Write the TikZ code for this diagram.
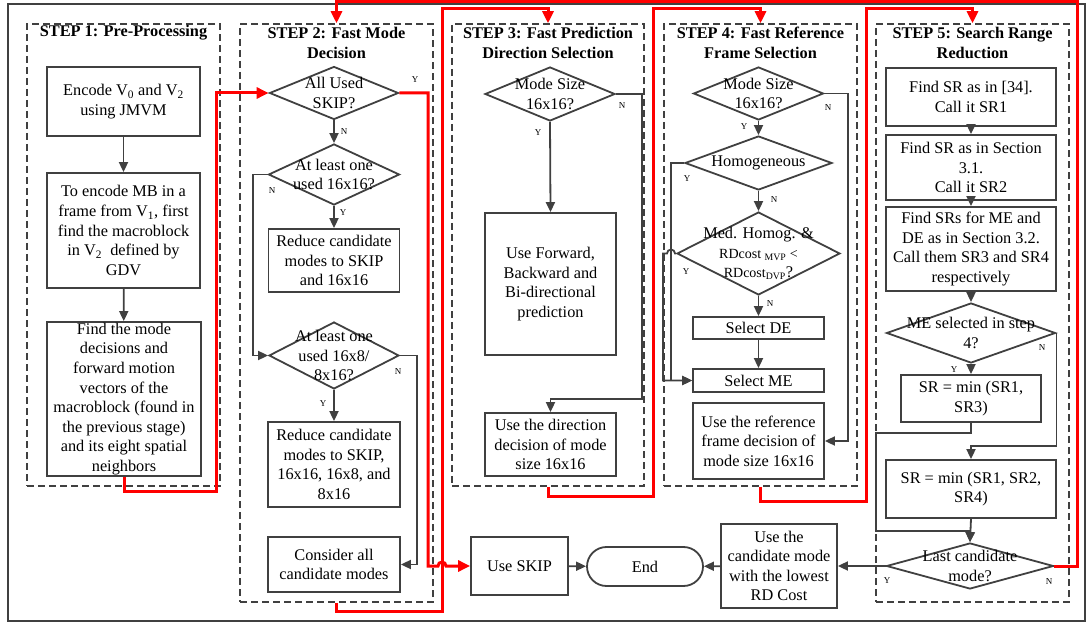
\documentclass[tikz,border=0pt]{standalone}
\usepackage{fontspec}
\setmainfont{Liberation Serif}
\usetikzlibrary{arrows.meta,shapes.geometric}

\definecolor{ln}{HTML}{404040}
\definecolor{hot}{HTML}{FF0000}

\tikzset{
  txt/.style={font=\fontsize{16.3}{19.6}\selectfont, text=black},
  pbox/.style 2 args={txt, draw=ln, line width=1.8pt, align=center, inner sep=0pt,
    minimum width=#1, minimum height=#2},
  dia/.style 2 args={diamond, draw=ln, line width=1.8pt, inner sep=0pt,
    minimum width=#1, minimum height=#2},
  dtext/.style={txt, align=center, inner sep=0pt},
  stagebox/.style 2 args={draw=ln, line width=1.5pt, dash pattern=on 7pt off 4pt,
    inner sep=0pt, minimum width=#1, minimum height=#2},
  ttl/.style={font=\fontsize{16.3}{20}\selectfont\bfseries, align=center, inner sep=0pt},
  yn/.style={font=\fontsize{9}{10}\selectfont, inner sep=0pt},
  gline/.style={draw=ln, line width=1.8pt},
  garr/.style={gline, -{Triangle[length=10pt,width=9pt]}},
  rarr/.style={draw=hot, line width=3pt, -{Triangle[length=12pt,width=11pt]}},
}

\begin{document}
\begin{tikzpicture}[x=1pt,y=-1pt]
\useasboundingbox (0,0) rectangle (1088,623);

% outer frame
\draw[ln, line width=1.6pt] (8,4) rectangle (1085,621);

% stage frames and titles
\node[stagebox={193}{462}] (st1) at (123.5,255) {};
\node[stagebox={193}{578}] (st2) at (336.5,313) {};
\node[stagebox={192}{462}] (st3) at (548,255) {};
\node[stagebox={193}{462}] (st4) at (760.5,255) {};
\node[stagebox={193}{578}] (st5) at (972.5,313) {};

\node[ttl] (t1) at (123.5,33) {STEP 1: Pre-Processing};
\node[ttl] (t2) at (336.5,43) {STEP 2: Fast Mode\\Decision};
\node[ttl] (t3) at (548,43) {STEP 3: Fast Prediction\\Direction Selection};
\node[ttl] (t4) at (760.5,43) {STEP 4: Fast Reference\\Frame Selection};
\node[ttl] (t5) at (972.5,43) {STEP 5: Search Range\\Reduction};

% step 1
\node[pbox={153}{69}] (a1) at (123.5,101.5) {Encode V\textsubscript{0} and V\textsubscript{2}\\using JMVM};
\node[pbox={153}{115}] (a2) at (123.5,230.5) {To encode MB in a\\frame from V\textsubscript{1}, first\\find the macroblock\\in V\textsubscript{2}~ defined by\\GDV};
\node[pbox={154}{154}] (a3) at (124,399) {Find the mode\\decisions and\\forward motion\\vectors of the\\macroblock (found in\\the previous stage)\\and its eight spatial\\neighbors};

% step 2
\node[dia={129}{53}] (d1) at (334,93) {};
\node[dtext] (d1t) at (d1) {All Used\\SKIP?};
\node[dia={131}{61}] (d2) at (334,174.5) {};
\node[dtext] (d2t) at (d2) {At least one\\used 16x16?};
\node[pbox={131}{63}] (r1) at (334,260.5) {Reduce candidate\\modes to SKIP\\and 16x16};
\node[dia={130}{67}] (d3) at (334,355.5) {};
\node[dtext] (d3t) at (d3) {At least one\\used 16x8/\\8x16?};
\node[pbox={132}{85}] (r2) at (334,464.5) {Reduce candidate\\modes to SKIP,\\16x16, 16x8, and\\8x16};
\node[pbox={132}{55}] (r3) at (334,564.5) {Consider all\\candidate modes};

% step 3
\node[dia={130}{54}] (d4) at (550,94) {};
\node[dtext] (d4t) at (d4) {Mode Size\\16x16?};
\node[pbox={131}{142}] (p1) at (550.5,284) {Use Forward,\\Backward and\\Bi-directional\\prediction};
\node[pbox={131}{63}] (p2) at (550.5,444.5) {Use the direction\\decision of mode\\size 16x16};

% step 4
\node[dia={130}{53}] (d5) at (758.5,93.5) {};
\node[dtext] (d5t) at (d5) {Mode Size\\16x16?};
\node[dia={147}{54}] (d6) at (758.5,163) {};
\node[dtext] (d6t) at (d6) {Homogeneous};
\node[dia={163}{83}] (d7) at (758.5,253.5) {};
\node[dtext] (d7t) at (d7) {Med. Homog. \&\\{\fontsize{14}{19.6}\selectfont RDcost \textsubscript{MVP} <}\\{\fontsize{14}{19.6}\selectfont RDcost\textsubscript{DVP}}?};
\node[pbox={131}{22}] (de) at (758.5,328) {Select DE};
\node[pbox={131}{23}] (me) at (758.5,380.5) {Select ME};
\node[pbox={131}{76}] (f) at (758.5,441) {Use the reference\\frame decision of\\mode size 16x16};

% step 5
\node[pbox={170}{58}] (s1) at (971,97) {Find SR as in [34].\\Call it SR1};
\node[pbox={170}{65}] (s2) at (971,167.5) {Find SR as in Section\\3.1.\\Call it SR2};
\node[pbox={170}{84}] (s3) at (971,249) {Find SRs for ME and\\DE as in Section 3.2.\\Call them SR3 and SR4\\respectively};
\node[dia={169}{60}] (d8) at (971,333) {};
\node[dtext] (d8t) at (d8) {ME selected in step\\4?};
\node[pbox={140}{47}] (s4) at (971,398.5) {SR = min (SR1,\\SR3)};
\node[pbox={170}{58}] (s5) at (971,489) {SR = min (SR1, SR2,\\SR4)};
\node[dia={167}{46}] (d9) at (970,566) {};
\node[dtext] (d9t) at (d9) {Last candidate\\mode?};

% exits
\node[pbox={97}{58}] (u) at (519.5,566) {Use SKIP};
\node[pbox={116}{39}, rounded corners=19.5pt] (e) at (645,566.5) {End};
\node[pbox={116}{84}] (c) at (779,566) {Use the\\candidate mode\\with the lowest\\RD Cost};

% step 1 connectors
\draw[garr] (a1) -- (a2);
\draw[garr] (a2) -- (a3);
\draw[rarr] (a3.south) -- (124,491) -- (216,491) -- (216,93) -- (d1.west);

% step 2 connectors
\draw[garr] (d1.south) -- (d2.north);
\draw[garr] (d2.south) -- (r1.north);
\draw[garr] (d2.west) -- (253,174.5) -- (253,355.5) -- (d3.west);
\draw[garr] (d3.south) -- (r2.north);
\draw[garr] (d3.east) -- (417,355.5) -- (417,564.5) -- (r3.east);
\draw[rarr] (d1.east) -- (428,93) -- (428,566) -- (438,566)
  arc[start angle=180, end angle=0, radius=4pt] -- (u.west);
\draw[rarr] (st2.south) -- (336.5,611) -- (442,611) -- (442,9) -- (548,9) -- (st3.north);

% step 3 connectors
\draw[garr] (d4.south) -- (p1.north);
\draw[garr] (d4.east) -- (642,94) -- (642,399) -- (550.5,399) -- (p2.north);
\draw[rarr] (st3.south) -- (548,496) -- (653,496) -- (653,9) -- (760.5,9) -- (st4.north);

% step 4 connectors
\draw[garr] (d5.south) -- (d6.north);
\draw[garr] (d6.south) -- (d7.north);
\draw[garr] (d7.south) -- (de.north);
\draw[garr] (de.south) -- (me.north);
\draw[garr] (d6.west) -- (671,163) -- (671,380.5) -- (me.west);
\draw[garr] (d7.west) -- (675,253.5) arc[start angle=0, end angle=180, radius=4pt]
  -- (663,253.5) -- (663,380.5) -- (me.west);
\draw[garr] (d5.east) -- (848,93.5) -- (848,441) -- (f.east);
\draw[rarr] (st4.south) -- (760.5,501) -- (866,501) -- (866,9) -- (972.5,9) -- (st5.north);

% step 5 connectors
\draw[garr] (s1) -- (s2);
\draw[garr] (s2) -- (s3);
\draw[garr] (s3) -- (d8.north);
\draw[garr] (d8.south) -- (s4.north);
\draw[garr] (s4.south) -- (971,433) -- (876,433) -- (876,531) -- (970,531) -- (d9.north);
\draw[garr] (d8.east) -- ++(0,113) -| (s5.north);
\draw[garr] (s5.south) -- (d9.north);
\draw[rarr] (d9.east) -- (1077,566) -- (1077,1.5) -- (336.5,1.5) -- (st2.north);

% final connectors
\draw[garr] (u) -- (e);
\draw[garr] (c) -- (e);
\draw[garr] (d9.west) -- (c.east);

% branch labels
\node[yn] (y1) at (415,80) {Y};
\node[yn] (n1) at (344,132) {N};
\node[yn] (n2) at (272,191) {N};
\node[yn] (y2) at (343,213) {Y};
\node[yn] (n3) at (398,372) {N};
\node[yn] (y3) at (323,404) {Y};
\node[yn] (n4) at (622,106) {N};
\node[yn] (y4) at (538,133) {Y};
\node[yn] (y5) at (744,127) {Y};
\node[yn] (n5) at (828,108) {N};
\node[yn] (n6) at (774,200) {N};
\node[yn] (y6) at (687,179) {Y};
\node[yn] (y7) at (686,272) {Y};
\node[yn] (n7) at (770,304) {N};
\node[yn] (y8) at (954,370) {Y};
\node[yn] (n8) at (1042,348) {N};
\node[yn] (y9) at (887,581) {Y};
\node[yn] (n9) at (1049,582) {N};
\end{tikzpicture}
\end{document}
